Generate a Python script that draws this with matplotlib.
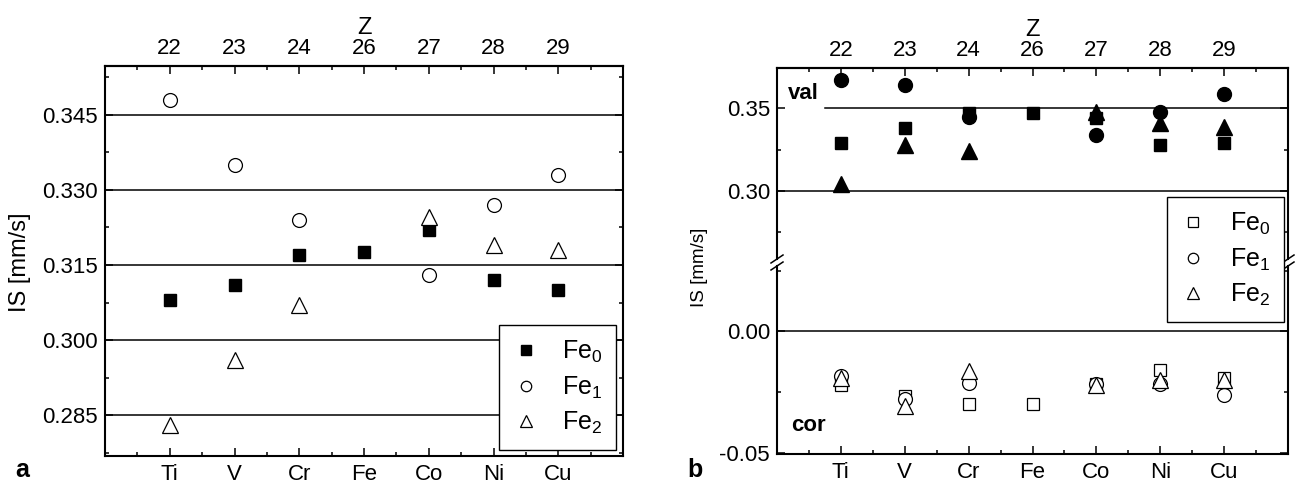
import numpy as np
import matplotlib
matplotlib.use('Agg')
import matplotlib.pyplot as plt
from matplotlib.lines import Line2D
from matplotlib.ticker import MultipleLocator, FormatStrFormatter

plt.rcParams['font.family'] = ['Liberation Sans', 'DejaVu Sans']
plt.rcParams['mathtext.fontset'] = 'custom'
plt.rcParams['mathtext.rm'] = 'Liberation Sans'
plt.rcParams['mathtext.it'] = 'Liberation Sans:italic'
plt.rcParams['mathtext.bf'] = 'Liberation Sans:bold'
plt.rcParams['axes.unicode_minus'] = False

# categories
elements = ['Ti', 'V', 'Cr', 'Fe', 'Co', 'Ni', 'Cu']
z_numbers = ['22', '23', '24', '26', '27', '28', '29']
nan = np.nan

# panel a: IS values (mm/s)
a_fe0 = [0.308, 0.311, 0.317, 0.3175, 0.322, 0.312, 0.310]
a_fe1 = [0.348, 0.335, 0.324, nan, 0.313, 0.327, 0.333]
a_fe2 = [0.283, 0.296, 0.307, nan, 0.3245, 0.319, 0.318]

# panel b: valence part (upper) and core part (lower)
val_fe0 = [0.329, 0.338, 0.347, 0.347, 0.344, 0.328, 0.329]
val_fe1 = [0.367, 0.364, 0.345, nan, 0.334, 0.348, 0.359]
val_fe2 = [0.304, 0.328, 0.324, nan, 0.348, 0.341, 0.339]
cor_fe0 = [-0.022, -0.0265, -0.030, -0.030, -0.0215, -0.0157, -0.019]
cor_fe1 = [-0.0185, -0.028, -0.0213, nan, -0.0215, -0.0216, -0.026]
cor_fe2 = [-0.019, -0.0307, -0.0161, nan, -0.022, -0.0202, -0.020]

labels = ['Fe$_0$', 'Fe$_1$', 'Fe$_2$']

W, H = 1298, 487
fig = plt.figure(figsize=(W / 100, H / 100), dpi=100)


def px_axes(left, top, right, bottom):
    return fig.add_axes([left / W, 1 - bottom / H, (right - left) / W, (bottom - top) / H])


x = np.arange(len(elements))
tick_kw = dict(direction='in', width=1.1, labelsize=16)
leg_kw = dict(fontsize=18, frameon=True, fancybox=False, edgecolor='black', framealpha=1,
              borderaxespad=0, borderpad=0.55, labelspacing=0.38, handlelength=1.0,
              handletextpad=0.95, markerscale=0.75)


def style_x(ax, bottom_labels=True, top_labels=True):
    ax.set_xlim(-1, 7)
    ax.xaxis.set_minor_locator(MultipleLocator(0.5))
    ax.tick_params(axis='both', which='both', **tick_kw)
    ax.tick_params(axis='both', which='major', length=6)
    ax.tick_params(axis='both', which='minor', length=3)
    ax.tick_params(axis='y', which='both', left=True, right=True, pad=5)
    if bottom_labels:
        ax.set_xticks(x, elements)
        ax.tick_params(axis='x', pad=6)
    else:
        ax.set_xticks(x)
        ax.tick_params(axis='x', which='both', bottom=False, labelbottom=False)
    if top_labels:
        sec = ax.secondary_xaxis('top')
        sec.set_xticks(x, z_numbers)
        sec.xaxis.set_minor_locator(MultipleLocator(0.5))
        sec.tick_params(which='both', **tick_kw)
        sec.tick_params(which='major', length=6, pad=5)
        sec.tick_params(which='minor', length=3)
        sec.set_xlabel('Z', fontsize=17, labelpad=3)
        sec.spines['top'].set_linewidth(1.5)
    for s in ax.spines.values():
        s.set_linewidth(1.5)


# ---- panel a ----
ax = px_axes(105, 66, 623, 456)
ax.set_ylim(0.2769, 0.3547)
ax.yaxis.set_major_locator(MultipleLocator(0.015))
ax.yaxis.set_minor_locator(MultipleLocator(0.0075))
ax.yaxis.set_major_formatter(FormatStrFormatter('%.3f'))
style_x(ax)
for v in [0.285, 0.300, 0.315, 0.330, 0.345]:
    ax.axhline(v, color='black', lw=1.1, zorder=1)
ax.plot(x, a_fe0, ls='none', marker='s', ms=9, color='black', label=labels[0], zorder=3)
ax.plot(x, a_fe1, ls='none', marker='o', ms=10, mfc='white', mec='black', mew=0.9, label=labels[1], zorder=3)
ax.plot(x, a_fe2, ls='none', marker='^', ms=11, mfc='white', mec='black', mew=0.9, label=labels[2], zorder=3)
leg = ax.legend(loc='lower right', bbox_to_anchor=(1 - 7 / 518, 6 / 390), **leg_kw)
leg.get_frame().set_linewidth(1.0)
fig.text(20 / W, 1 - 262 / H, 'IS [mm/s]', rotation=90, ha='center', va='center', fontsize=17)
fig.text(22 / W, 1 - 470 / H, 'a', ha='center', va='center', fontsize=18, fontweight='bold')

# ---- panel b ----
ax_up = px_axes(777, 68, 1288, 259)
ax_lo = px_axes(777, 266, 1288, 454)

ax_up.set_ylim(0.2588, 0.3745)
ax_up.yaxis.set_major_locator(MultipleLocator(0.05))
ax_up.yaxis.set_minor_locator(MultipleLocator(0.025))
ax_up.yaxis.set_major_formatter(FormatStrFormatter('%.2f'))
style_x(ax_up, bottom_labels=False, top_labels=True)
ax_up.spines['bottom'].set_visible(False)

ax_lo.set_ylim(-0.0505, 0.027)
ax_lo.yaxis.set_major_locator(MultipleLocator(0.05))
ax_lo.yaxis.set_minor_locator(MultipleLocator(0.025))
ax_lo.yaxis.set_major_formatter(FormatStrFormatter('%.2f'))
style_x(ax_lo, bottom_labels=True, top_labels=False)
ax_lo.spines['top'].set_visible(False)
ax_lo.tick_params(axis='x', which='both', top=False)

ax_up.axhline(0.35, xmin=48 / 511, color='black', lw=1.1, zorder=1)
ax_up.axhline(0.30, color='black', lw=1.1, zorder=1)
ax_lo.axhline(0.0, color='black', lw=1.1, zorder=1)

ax_up.plot(x, val_fe0, ls='none', marker='s', ms=9, color='black', zorder=3)
ax_up.plot(x, val_fe1, ls='none', marker='o', ms=10, color='black', zorder=3)
ax_up.plot(x, val_fe2, ls='none', marker='^', ms=11, color='black', zorder=3)

h0, = ax_lo.plot(x, cor_fe0, ls='none', marker='s', ms=9, mfc='white', mec='black', mew=0.9, zorder=3)
h1, = ax_lo.plot(x, cor_fe1, ls='none', marker='o', ms=10, mfc='white', mec='black', mew=0.9, zorder=3)
h2, = ax_lo.plot(x, cor_fe2, ls='none', marker='^', ms=11, mfc='white', mec='black', mew=0.9, zorder=3)

ax_up.text(0.052, 0.869, 'val', transform=ax_up.transAxes, ha='center', va='center',
           fontsize=16, fontweight='bold')
ax_lo.text(0.061, 0.154, 'cor', transform=ax_lo.transAxes, ha='center', va='center',
           fontsize=16, fontweight='bold')

legb = fig.legend([h0, h1, h2], labels, loc='upper left', bbox_to_anchor=(1167 / W, 1 - 197 / H),
                  bbox_transform=fig.transFigure, **leg_kw)
legb.get_frame().set_linewidth(1.0)

# break marks on both spines
for xb in (777, 1288):
    for yb in (259, 266):
        fig.add_artist(Line2D([(xb - 6) / W, (xb + 6) / W], [1 - (yb + 4) / H, 1 - (yb - 4) / H],
                              color='black', lw=1.1))

fig.text(700 / W, 1 - 267 / H, 'IS [mm/s]', rotation=90, ha='center', va='center', fontsize=13.5)
fig.text(695 / W, 1 - 470 / H, 'b', ha='center', va='center', fontsize=18, fontweight='bold')

fig.savefig('out.png', dpi=100)
